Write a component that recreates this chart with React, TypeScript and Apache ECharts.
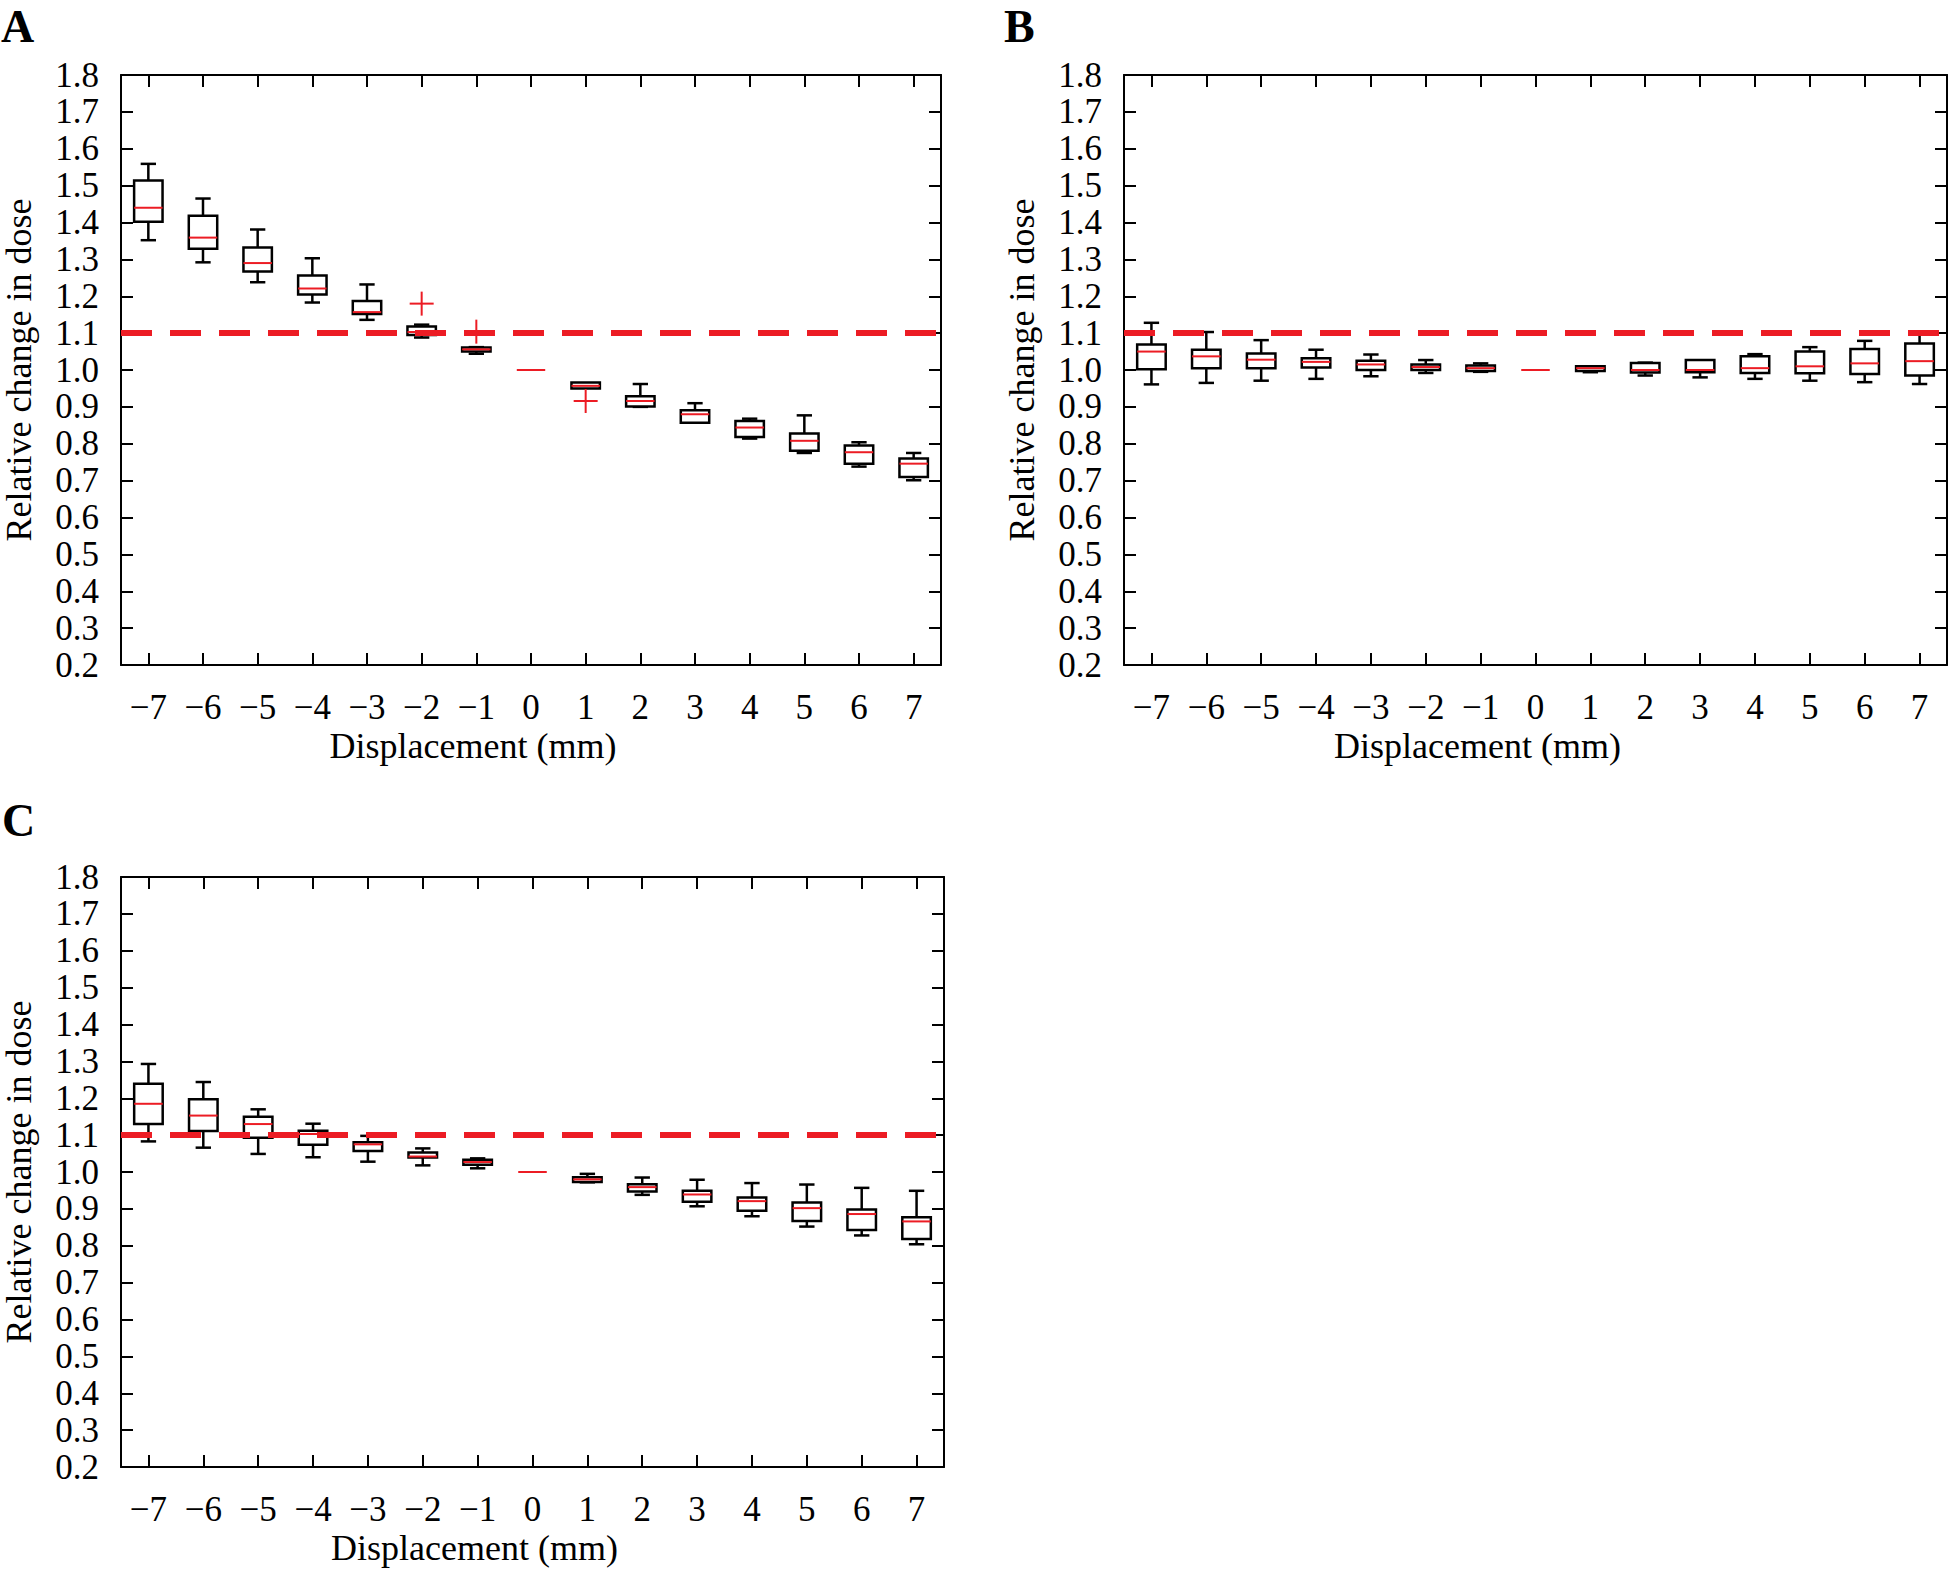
import React, { useEffect, useRef } from "react";
import * as echarts from "echarts";

const CATEGORIES = ["\u22127", "\u22126", "\u22125", "\u22124", "\u22123", "\u22122", "\u22121", "0", "1", "2", "3", "4", "5", "6", "7"];
const Y_TICKS_MIN = 0.2;
const Y_TICKS_MAX = 1.8;
const Y_STEP = 0.1;
const THRESHOLD = 1.1;

// Panel A
const A_low = [1.352, 1.292, 1.238, 1.183, 1.136, 1.088, 1.044, 1.0, 0.95, 0.9, 0.857, 0.814, 0.775, 0.738, 0.701];
const A_q1 = [1.402, 1.329, 1.267, 1.205, 1.152, 1.095, 1.05, 1.0, 0.95, 0.901, 0.857, 0.818, 0.781, 0.746, 0.71];
const A_med = [1.44, 1.359, 1.29, 1.221, 1.157, 1.103, 1.056, 1.0, 0.957, 0.916, 0.88, 0.844, 0.808, 0.777, 0.746];
const A_q3 = [1.514, 1.418, 1.332, 1.256, 1.187, 1.118, 1.061, 1.0, 0.966, 0.929, 0.891, 0.862, 0.828, 0.795, 0.76];
const A_high = [1.559, 1.465, 1.381, 1.303, 1.232, 1.123, 1.062, 1.0, 0.966, 0.962, 0.91, 0.868, 0.877, 0.804, 0.775];
const A_outliers = [["\u22122", 1.18], ["\u22121", 1.104], ["1", 0.916]];

// Panel B
const B_low = [0.961, 0.965, 0.971, 0.976, 0.983, 0.992, 0.995, 1.0, 0.994, 0.985, 0.98, 0.976, 0.971, 0.967, 0.962];
const B_q1 = [1.002, 1.005, 1.005, 1.007, 1.0, 1.0, 0.997, 1.0, 0.997, 0.993, 0.994, 0.992, 0.991, 0.989, 0.985];
const B_med = [1.05, 1.037, 1.028, 1.022, 1.015, 1.008, 1.005, 1.0, 1.005, 1.0, 1.0, 1.005, 1.01, 1.018, 1.024];
const B_q3 = [1.069, 1.055, 1.045, 1.032, 1.025, 1.015, 1.012, 1.0, 1.01, 1.019, 1.027, 1.037, 1.05, 1.057, 1.072];
const B_high = [1.128, 1.103, 1.081, 1.055, 1.042, 1.027, 1.018, 1.0, 1.01, 1.02, 1.027, 1.043, 1.062, 1.079, 1.101];
const B_outliers: [string, number][] = [];

// Panel C
const C_low = [1.083, 1.066, 1.049, 1.04, 1.028, 1.018, 1.01, 1.0, 0.972, 0.938, 0.907, 0.88, 0.852, 0.828, 0.804];
const C_q1 = [1.13, 1.111, 1.093, 1.074, 1.057, 1.039, 1.02, 1.0, 0.973, 0.947, 0.919, 0.895, 0.867, 0.843, 0.818];
const C_med = [1.185, 1.153, 1.13, 1.103, 1.075, 1.042, 1.027, 1.0, 0.98, 0.959, 0.939, 0.921, 0.902, 0.886, 0.866];
const C_q3 = [1.239, 1.197, 1.15, 1.112, 1.081, 1.053, 1.033, 1.0, 0.986, 0.967, 0.949, 0.931, 0.917, 0.898, 0.877];
const C_high = [1.293, 1.244, 1.17, 1.131, 1.098, 1.064, 1.037, 1.0, 0.995, 0.985, 0.979, 0.97, 0.966, 0.957, 0.949];
const C_outliers: [string, number][] = [];

const X_NAME = "Displacement (mm)";
const Y_NAME = "Relative change in dose";

const RED = "#ec1c24";
const FONT = '"Liberation Serif", "Times New Roman", serif';

const PANELS = [
  { label: "A", low: A_low, q1: A_q1, med: A_med, q3: A_q3, high: A_high, outliers: A_outliers, grid: { left: 121, top: 75, width: 820, height: 590 }, letter: { x: 1, y: 3 } },
  { label: "B", low: B_low, q1: B_q1, med: B_med, q3: B_q3, high: B_high, outliers: B_outliers, grid: { left: 1124, top: 75, width: 823, height: 590 }, letter: { x: 1004, y: 3 } },
  { label: "C", low: C_low, q1: C_q1, med: C_med, q3: C_q3, high: C_high, outliers: C_outliers, grid: { left: 121, top: 877, width: 823, height: 590 }, letter: { x: 2, y: 797 } },
];

function boxRender(params: any, api: any) {
  const i = api.value(0);
  const low = api.value(1);
  const q1 = api.value(2);
  const med = api.value(3);
  const q3 = api.value(4);
  const high = api.value(5);
  const band = api.size([1, 0])[0];
  const hw = band * 0.26;
  const cw = band * 0.14;
  const x = api.coord([i, med])[0];
  const y = (v: number) => api.coord([i, v])[1];
  const blk = { stroke: "#000", lineWidth: 2.5, fill: null };
  const children: any[] = [];
  if (high > q3) {
    children.push({ type: "line", shape: { x1: x, y1: y(q3), x2: x, y2: y(high) }, style: blk });
    children.push({ type: "line", shape: { x1: x - cw, y1: y(high), x2: x + cw, y2: y(high) }, style: blk });
  }
  if (low < q1) {
    children.push({ type: "line", shape: { x1: x, y1: y(q1), x2: x, y2: y(low) }, style: blk });
    children.push({ type: "line", shape: { x1: x - cw, y1: y(low), x2: x + cw, y2: y(low) }, style: blk });
  }
  if (q3 > q1) {
    children.push({
      type: "rect",
      shape: { x: x - hw, y: y(q3), width: 2 * hw, height: y(q1) - y(q3) },
      style: { fill: "#fff", stroke: "#000", lineWidth: 2.5 },
    });
  }
  children.push({ type: "line", shape: { x1: x - hw, y1: y(med), x2: x + hw, y2: y(med) }, style: { stroke: RED, lineWidth: 2 } });
  return { type: "group", children };
}

function plusRender(params: any, api: any) {
  const p = api.coord([api.value(0), api.value(1)]);
  const s = 12;
  const st = { stroke: RED, lineWidth: 2 };
  return {
    type: "group",
    children: [
      { type: "line", shape: { x1: p[0] - s, y1: p[1], x2: p[0] + s, y2: p[1] }, style: st },
      { type: "line", shape: { x1: p[0], y1: p[1] - s, x2: p[0], y2: p[1] + s }, style: st },
    ],
  };
}

function buildOption() {
  const grid: any[] = [];
  const xAxis: any[] = [];
  const yAxis: any[] = [];
  const series: any[] = [];
  const graphic: any[] = [];
  const axisLine = { show: true, onZero: false, lineStyle: { color: "#000", width: 2 } };
  const tick = { show: true, inside: true, length: 12, lineStyle: { color: "#000", width: 2 } };

  PANELS.forEach((p, g) => {
    grid.push({ ...p.grid, containLabel: false, outerBoundsMode: "none", show: false });
    const xb = xAxis.length;
    xAxis.push({
      type: "category", gridIndex: g, position: "bottom", data: CATEGORIES, boundaryGap: true,
      axisLine, axisTick: { ...tick, alignWithLabel: true },
      axisLabel: { color: "#000", fontSize: 35, fontFamily: FONT, margin: 25, interval: 0 },
      splitLine: { show: false },
      name: X_NAME, nameLocation: "middle", nameGap: 63,
      nameTextStyle: { color: "#000", fontSize: 36, fontFamily: FONT, padding: [0, 116, 0, 0] },
    });
    xAxis.push({
      type: "category", gridIndex: g, position: "top", data: CATEGORIES, boundaryGap: true,
      axisLine, axisTick: { ...tick, alignWithLabel: true }, axisLabel: { show: false }, splitLine: { show: false },
    });
    const yl = yAxis.length;
    yAxis.push({
      type: "value", gridIndex: g, position: "left", min: Y_TICKS_MIN, max: Y_TICKS_MAX, interval: Y_STEP,
      axisLine, axisTick: tick, splitLine: { show: false },
      axisLabel: { color: "#000", fontSize: 35, fontFamily: FONT, margin: 22, formatter: (v: number) => v.toFixed(1) },
      name: Y_NAME, nameLocation: "middle", nameGap: 84,
      nameTextStyle: { color: "#000", fontSize: 36, fontFamily: FONT },
    });
    yAxis.push({
      type: "value", gridIndex: g, position: "right", min: Y_TICKS_MIN, max: Y_TICKS_MAX, interval: Y_STEP,
      axisLine, axisTick: tick, splitLine: { show: false }, axisLabel: { show: false },
    });

    const data = CATEGORIES.map((c, i) => [i, p.low[i], p.q1[i], p.med[i], p.q3[i], p.high[i]]);
    series.push({
      type: "custom", xAxisIndex: xb, yAxisIndex: yl, renderItem: boxRender,
      encode: { x: 0, y: [1, 2, 3, 4, 5] }, data, z: 2,
    });
    if (p.outliers.length) {
      series.push({
        type: "custom", xAxisIndex: xb, yAxisIndex: yl, renderItem: plusRender,
        encode: { x: 0, y: 1 },
        data: p.outliers.map((o) => [CATEGORIES.indexOf(o[0] as string), o[1]]), z: 3,
      });
    }
    series.push({
      type: "line", xAxisIndex: xb, yAxisIndex: yl, data: [], z: 5,
      markLine: {
        silent: true, symbol: ["none", "none"], label: { show: false },
        lineStyle: { color: RED, width: 6, type: [31, 18] },
        data: [{ yAxis: THRESHOLD }],
      },
    });
    graphic.push({
      type: "text", left: p.letter.x, top: p.letter.y,
      style: { text: p.label, font: `bold 46px ${FONT}`, fill: "#000" },
    });
  });

  return { animation: false, backgroundColor: "#fff", grid, xAxis, yAxis, series, graphic };
}

export default function App() {
  const ref = useRef<HTMLDivElement>(null);
  useEffect(() => {
    document.body.style.margin = "0";
    if (!ref.current) return;
    const chart = echarts.init(ref.current, undefined, { renderer: "svg" });
    chart.setOption(buildOption() as any);
    return () => chart.dispose();
  }, []);
  return <div ref={ref} style={{ width: 1949, height: 1570, background: "#fff" }} />;
}
